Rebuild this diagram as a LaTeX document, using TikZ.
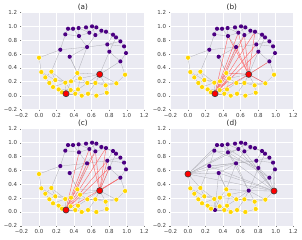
\documentclass[tikz,border=0pt]{standalone}
\usepackage{fontspec}
\setmainfont{DejaVu Sans}
\usetikzlibrary{positioning}
\definecolor{axbg}{RGB}{234,234,242}
\definecolor{cpur}{RGB}{75,0,130}
\definecolor{cyel}{RGB}{255,215,0}
\definecolor{cred}{RGB}{255,0,0}
\definecolor{cedge}{RGB}{175,175,182}
\definecolor{ctxt}{RGB}{60,60,60}
\pgfdeclarelayer{bg}
\pgfdeclarelayer{edges}
\pgfsetlayers{bg,edges,main}

% node positions (data units)
\newcommand{\purplepts}{p1/0.331/0.966, p2/0.388/0.966, p3/0.452/0.976, p4/0.536/0.986,
  p5/0.605/1.0, p6/0.654/0.986, p7/0.711/0.938, p8/0.300/0.885, p9/0.456/0.861,
  p10/0.574/0.909, p11/0.643/0.875, p12/0.764/0.923, p13/0.844/0.880, p14/0.878/0.841,
  p15/0.928/0.784, p16/0.970/0.712, p17/0.992/0.615, p18/0.779/0.740, p19/0.548/0.702,
  p20/0.802/0.635, p21/0.243/0.663, p22/0.350/0.5625, p23/0.928/0.495}
\newcommand{\yellowpts}{y2/0.027/0.341, y3/0.072/0.264, y4/0.141/0.346, y5/0.118/0.183,
  y6/0.186/0.226, y7/0.160/0.125, y8/0.224/0.091, y9/0.262/0.048, y10/0.300/0.1875,
  y11/0.365/0.207, y12/0.361/0.082, y13/0.437/0.327, y14/0.468/0.250, y15/0.414/0.029,
  y16/0.445/0.091, y17/0.487/0.0, y18/0.551/0.183, y19/0.559/0.029, y20/0.643/0.183,
  y21/0.654/0.0, y22/0.760/0.149, y23/0.772/0.043, y24/0.882/0.178}
\newcommand{\tippts}{y1/0.0/0.548, y25/0.981/0.303}
\newcommand{\hubpts}{r1/0.308/0.029, r2/0.692/0.308}

% edges
\newcommand{\grayedges}{p1/p2, p2/p3, p3/p4, p4/p5, p5/p6, p6/p7, p7/p12, p12/p13, p13/p14,
  p14/p15, p15/p16, p16/p17, p17/p23, p8/p1, p8/p9, p9/p10, p10/p11, p11/p12, p9/p19,
  p19/p11, p19/p18, p18/p20, p20/p23, p21/p19, p21/p8, p22/p19, p18/p13, p10/p3, p4/p10,
  p15/p18, p2/p9, p5/p11, p14/p20, p6/p10, p7/p13, p3/p9, p12/p14, p18/p16,
  y1/y2, y2/y3, y3/y4, y3/y5, y4/y6, y5/y6, y5/y7, y7/y8, y8/y9, y6/y10, y10/y11,
  y11/y13, y13/y14, y11/y14, y14/y18, y18/y20, y20/y22, y22/y24, y24/y25, y8/y12,
  y12/y15, y15/y16, y16/y17, y17/y19, y19/y21, y21/y23, y23/y22, y16/y18, y10/y12,
  y4/y10, y6/y11, y12/y17, y19/y20, y2/y6, y7/y10, y11/y18, y14/y16, y24/y20,
  r1/y9, r1/y10, r1/y12, r1/y15, r1/y16, r1/y11, r2/y13, r2/y14, r2/y20, r2/y18,
  r2/y22, r2/y24, r2/p20, r2/p23, y13/p22, y4/p21, y25/p23, y1/p21, p22/y14, p19/y13}
\newcommand{\rewired}{y1/p8, y1/p1, y1/p9, y1/p19, y1/p22, y1/y4, y1/p10, y25/p17,
  y25/p16, y25/p19, y25/p22, y25/p21, y25/p10, y25/p11, y25/p20, y25/r2, r2/p9,
  r2/p19, r1/p22, p8/p20, p21/p18, p9/p23, y1/y25, p2/p20}
\newcommand{\hotb}{r1/p9, r1/p10, r1/p11, r1/p19, r1/p18, r1/p20, r1/p12, r1/r2,
  r1/y13, r1/y14, r2/p10, r2/p11, r2/p12, r2/p19, r2/p23, r2/p9, r2/y13, r2/y24}
\newcommand{\hotc}{r1/p9, r1/p10, r1/p11, r1/p19, r1/p18, r1/p12, r1/p20, r1/p23,
  r2/p10, r2/p11, r2/p12, r2/p20, r2/p23, r2/p18}

\newcommand{\axesframe}[2]{%
  \begin{pgfonlayer}{bg}
    \fill[axbg] (-0.2,-0.2) rectangle (1.2,1.2);
    \foreach \v in {-0.2,0.0,0.2,0.4,0.6,0.8,1.0,1.2} {
      \draw[gridln] (\v,-0.2) -- (\v,1.2);
      \draw[gridln] (-0.2,\v) -- (1.2,\v);
    }
  \end{pgfonlayer}
  \foreach \v/\s [count=\i] in {-0.2/−0.2, 0.0/0.0, 0.2/0.2, 0.4/0.4, 0.6/0.6, 0.8/0.8, 1.0/1.0, 1.2/1.2} {
    \draw[tk] (\v,-0.2) -- ++(0,-1.2pt);
    \draw[tk] (-0.2,\v) -- ++(-1.2pt,0);
    \node[tlab, anchor=north] (#1-x\i) at ([yshift=-0.1cm]\v,-0.2) {\s};
    \node[tlab, anchor=east]  (#1-y\i) at ([xshift=-0.12cm]-0.2,\v) {\s};
  }
  \node[ttl] (#1-title) at ([yshift=0.05cm]0.5,1.2) {#2};
}
\newcommand{\dotset}[3]{\foreach \n/\x/\y in #3 {\node[#2] (#1-\n) at (\x,\y) {};}}
\newcommand{\edgeset}[3]{%
  \begin{pgfonlayer}{edges}
    \foreach \u/\w in #3 {\draw[#2] (#1-\u) -- (#1-\w);}
  \end{pgfonlayer}}

\begin{document}
\begin{tikzpicture}[
    pu/.style={circle, fill=cpur, inner sep=0pt, minimum size=0.125cm},
    ye/.style={circle, fill=cyel, draw=white, line width=0.35pt, inner sep=0pt, minimum size=0.15cm},
    rd/.style={circle, fill=cred, draw=black!75, line width=0.5pt, inner sep=0pt, minimum size=0.185cm},
    edg/.style={draw=cedge, line width=0.25pt},
    hot/.style={draw=red!60, line width=0.35pt},
    gridln/.style={draw=white, line width=0.6pt},
    tk/.style={draw=ctxt!70, line width=0.3pt},
    tlab/.style={font=\fontsize{4.7}{5}\selectfont, text=ctxt, inner sep=0pt},
    ttl/.style={font=\fontsize{6.2}{7}\selectfont, text=black!85, inner sep=0pt, anchor=south}
  ]
  \useasboundingbox (0,0) rectangle (9.06,7.2);

  % (a) original graph
  \begin{scope}[shift={(1.17cm,4.329cm)}, x=2.631cm, y=2.079cm]
    \axesframe{a}{(a)}
    \dotset{a}{pu}{\purplepts}
    \dotset{a}{ye}{\yellowpts}
    \dotset{a}{ye}{\tippts}
    \dotset{a}{rd}{\hubpts}
    \edgeset{a}{edg}{\grayedges}
  \end{scope}

  % (b)
  \begin{scope}[shift={(5.64cm,4.329cm)}, x=2.631cm, y=2.079cm]
    \axesframe{b}{(b)}
    \dotset{b}{pu}{\purplepts}
    \dotset{b}{ye}{\yellowpts}
    \dotset{b}{ye}{\tippts}
    \dotset{b}{rd}{\hubpts}
    \edgeset{b}{edg}{\grayedges}
    \edgeset{b}{hot}{\hotb}
  \end{scope}

  % (c)
  \begin{scope}[shift={(1.17cm,0.84cm)}, x=2.631cm, y=2.079cm]
    \axesframe{c}{(c)}
    \dotset{c}{pu}{\purplepts}
    \dotset{c}{ye}{\yellowpts}
    \dotset{c}{ye}{\tippts}
    \dotset{c}{rd}{\hubpts}
    \edgeset{c}{edg}{\grayedges}
    \edgeset{c}{hot}{\hotc}
  \end{scope}

  % (d) rewired
  \begin{scope}[shift={(5.64cm,0.84cm)}, x=2.631cm, y=2.079cm]
    \axesframe{d}{(d)}
    \dotset{d}{pu}{\purplepts}
    \dotset{d}{pu}{\hubpts}
    \dotset{d}{ye}{\yellowpts}
    \dotset{d}{rd}{\tippts}
    \edgeset{d}{edg}{\grayedges}
    \edgeset{d}{edg}{\rewired}
  \end{scope}
\end{tikzpicture}
\end{document}
